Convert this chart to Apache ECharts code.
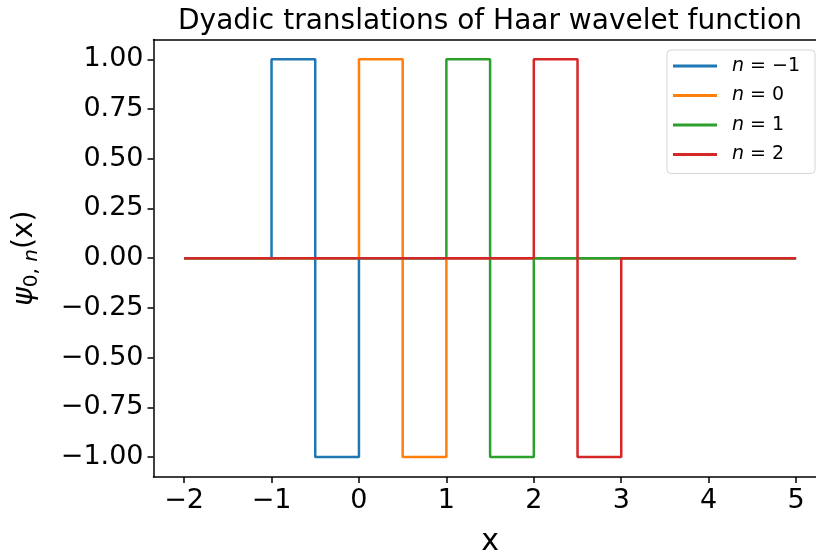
<!DOCTYPE html>
<html>
<head>
<meta charset="utf-8">
<script src="https://cdn.jsdelivr.net/npm/echarts@6/dist/echarts.min.js"></script>
<style>
  html, body { margin: 0; padding: 0; background: #fff; }
  #chart { width: 816px; height: 556px; }
</style>
</head>
<body>
<div id="chart"></div>
<script>
// series: psi_{0,n}(x) for n = -1, 0, 1, 2 (step corners)
const seriesNames = ['−1', '0', '1', '2'];
const seriesColors = ['#1f77b4', '#ff7f0e', '#2ca02c', '#d62728'];
const psiNm1 = [[-2, 0], [-1, 0], [-1, 1], [-0.5, 1], [-0.5, -1], [0, -1], [0, 0], [5, 0]];
const psiN0 = [[-2, 0], [0, 0], [0, 1], [0.5, 1], [0.5, -1], [1, -1], [1, 0], [5, 0]];
const psiN1 = [[-2, 0], [1, 0], [1, 1], [1.5, 1], [1.5, -1], [2, -1], [2, 0], [5, 0]];
const psiN2 = [[-2, 0], [2, 0], [2, 1], [2.5, 1], [2.5, -1], [3, -1], [3, 0], [5, 0]];
const xTicks = [-2, -1, 0, 1, 2, 3, 4, 5];
const yTicks = [-1, -0.75, -0.5, -0.25, 0, 0.25, 0.5, 0.75, 1];

const font = 'DejaVu Sans';
const minus = s => String(s).replace('-', '\u2212');

const chart = echarts.init(document.getElementById('chart'), null, { renderer: 'canvas' });

const allData = [psiNm1, psiN0, psiN1, psiN2];
const axisLineStyle = { color: '#000', width: 1.5 };

chart.setOption({
  animation: false,
  backgroundColor: '#fff',
  title: {
    text: 'Dyadic translations of Haar wavelet function',
    left: 485,
    textAlign: 'center',
    top: 3,
    textStyle: { fontFamily: font, fontSize: 28, fontWeight: 'normal', color: '#000' }
  },
  grid: {
    left: 153.5, width: 673.2, top: 39.4, height: 437.6,
    outerBoundsMode: 'none',
    containLabel: false,
    show: false
  },
  legend: {
    orient: 'vertical',
    left: 667, top: 50,
    padding: [6, 15, 9, 6],
    itemWidth: 44, itemHeight: 3, itemGap: 9.5,
    icon: 'rect',
    borderColor: '#d5d5d5', borderWidth: 1, borderRadius: 4,
    backgroundColor: 'rgba(255,255,255,0.8)',
    formatter: name => '{i|n} = ' + name,
    textStyle: {
      fontFamily: font, fontSize: 19, color: '#000', lineHeight: 20,
      padding: [0, 0, 0, 10],
      rich: { i: { fontFamily: font, fontSize: 19, fontStyle: 'italic', color: '#000' } }
    },
    data: seriesNames
  },
  xAxis: [{
    type: 'value',
    min: -2.35, max: 5.35,
    name: 'x',
    nameLocation: 'middle',
    nameGap: 50,
    nameTextStyle: { fontFamily: font, fontSize: 30, color: '#000' },
    axisLine: { show: true, onZero: false, lineStyle: axisLineStyle },
    axisTick: { show: true, length: 6, customValues: xTicks, lineStyle: axisLineStyle },
    axisLabel: {
      customValues: xTicks, margin: 10,
      fontFamily: font, fontSize: 27, color: '#000',
      formatter: v => minus(v)
    },
    splitLine: { show: false }
  }, {
    // top spine only
    type: 'value',
    position: 'top',
    min: -2.35, max: 5.35,
    axisLine: { show: true, onZero: false, lineStyle: axisLineStyle },
    axisTick: { show: false },
    axisLabel: { show: false },
    splitLine: { show: false }
  }],
  yAxis: {
    type: 'value',
    min: -1.1, max: 1.1,
    name: '{psi|ψ}{sub|0, }{subi|n}{par|(x)}',
    nameLocation: 'middle',
    nameRotate: 90,
    nameGap: 112,
    nameTextStyle: {
      fontFamily: font, fontSize: 28, color: '#000',
      rich: {
        psi: { fontFamily: font, fontSize: 28, fontStyle: 'italic', color: '#000' },
        sub: { fontFamily: font, fontSize: 20, color: '#000', padding: [14, 0, 0, 0] },
        subi: { fontFamily: font, fontSize: 20, fontStyle: 'italic', color: '#000', padding: [14, 0, 0, 0] },
        par: { fontFamily: font, fontSize: 28, color: '#000' }
      }
    },
    axisLine: { show: true, onZero: false, lineStyle: axisLineStyle },
    axisTick: { show: true, length: 6, customValues: yTicks, lineStyle: axisLineStyle },
    axisLabel: {
      customValues: yTicks, margin: 10,
      fontFamily: font, fontSize: 27, color: '#000',
      formatter: v => minus(v.toFixed(2))
    },
    splitLine: { show: false }
  },
  series: allData.map((d, i) => ({
    name: seriesNames[i],
    type: 'line',
    data: d,
    showSymbol: false,
    symbol: 'none',
    color: seriesColors[i],
    lineStyle: { width: 2.5, color: seriesColors[i] },
    clip: false
  }))
});
</script>
</body>
</html>
